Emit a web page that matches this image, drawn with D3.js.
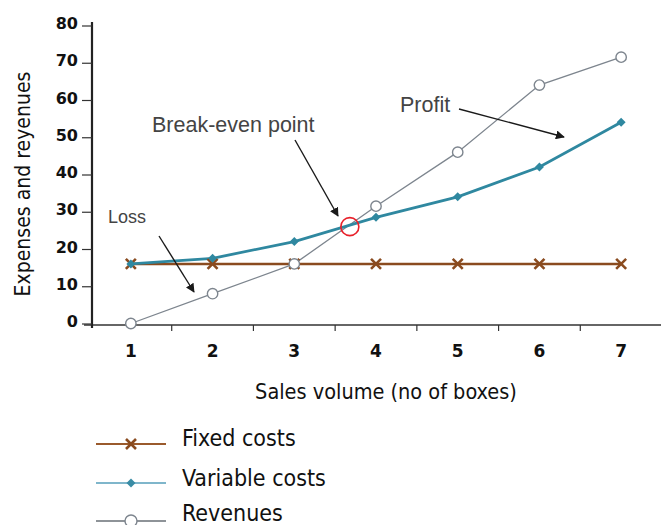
<!DOCTYPE html>
<html><head><meta charset="utf-8">
<script src="https://cdn.jsdelivr.net/npm/d3@7"></script>
<style>body{margin:0;background:#fff}</style>
</head><body>
<svg id="c" width="661" height="525"></svg>
<script>
const categories = ["1","2","3","4","5","6","7"];
const fixedCosts = [16,16,16,16,16,16,16];
const variableCosts = [16,17.5,22,28.5,34,42,54];
const revenues = [0,8,16,31.5,46,64,71.5];
const yTicks = [0,10,20,30,40,50,60,70,80];
const breakEven = {x: 3.68, y: 26};
const seriesNames = ["Fixed costs","Variable costs","Revenues"];

const COND = "'DejaVu Sans Condensed', 'DejaVu Sans'";
const svg = d3.select("#c");
const x = d3.scaleBand().domain(categories).range([90,662]);
const y = d3.scaleLinear().domain([0,80]).range([323.5,25.5]);
const cx = c => x(c) + x.bandwidth()/2;
const xv = v => cx("1") + (v-1)*x.step();

svg.append("defs").append("marker").attr("id","ah").attr("viewBox","0 0 10 10")
  .attr("refX",9).attr("refY",5).attr("markerWidth",9).attr("markerHeight",9)
  .attr("markerUnits","userSpaceOnUse").attr("orient","auto")
  .append("path").attr("d","M0,0 L10,5 L0,10 z").attr("fill","#1a1a1a");

// x axis
const xa = svg.append("g").attr("transform","translate(0,325)")
  .call(d3.axisBottom(x).tickSize(0));
xa.select(".domain").remove();
xa.selectAll("text").attr("font-family","DejaVu Sans").attr("font-weight","bold").attr("font-size",17)
  .attr("fill","#111").attr("y",32).attr("dy",0);
xa.append("line").attr("x1",84).attr("x2",661).attr("y1",0).attr("y2",0).attr("stroke","#333").attr("stroke-width",1.5);
xa.selectAll(".bt").data(categories.slice(1)).enter().append("line")
  .attr("x1",d=>x(d)).attr("x2",d=>x(d)).attr("y1",0).attr("y2",6).attr("stroke","#333").attr("stroke-width",1.2);

// y axis
const ya = svg.append("g").attr("transform","translate(92,0)")
  .call(d3.axisLeft(y).tickValues(yTicks).tickSize(10).tickPadding(4).tickSizeOuter(0));
ya.select(".domain").attr("stroke","#222").attr("stroke-width",2.2).attr("d","M0,22V328");
ya.selectAll(".tick line").attr("stroke","#333").attr("stroke-width",1.2);
ya.selectAll("text").attr("font-family","DejaVu Sans").attr("font-weight","bold").attr("font-size",16).attr("fill","#111").attr("dy","0.2em");

// axis titles
svg.append("text").attr("x",386).attr("y",399).attr("text-anchor","middle")
  .attr("font-family",COND).attr("font-stretch","condensed").attr("font-size",21.5).attr("fill","#111")
  .text("Sales volume (no of boxes)");
svg.append("text").attr("transform","translate(30,184) rotate(-90)").attr("text-anchor","middle")
  .attr("font-family",COND).attr("font-stretch","condensed").attr("font-size",21).attr("fill","#111")
  .text("Expenses and reyenues");

const line = d3.line().x((d,i)=>cx(categories[i])).y(d=>y(d));

svg.append("path").datum(fixedCosts).attr("d",line).attr("fill","none").attr("stroke","#8a4b1f").attr("stroke-width",2.5);
svg.append("path").datum(revenues).attr("d",line).attr("fill","none").attr("stroke","#7d858e").attr("stroke-width",1.3);
svg.append("path").datum(variableCosts).attr("d",line).attr("fill","none").attr("stroke","#2f88a0").attr("stroke-width",2.8);

function xMark(g, px, py, s, col){
  g.append("path").attr("d",`M${px-s},${py-s}L${px+s},${py+s}M${px-s},${py+s}L${px+s},${py-s}`)
   .attr("stroke",col).attr("stroke-width",2.6).attr("fill","none");
}
function diamond(g, px, py, s, col){
  g.append("path").attr("d",`M${px},${py-s}L${px+s},${py}L${px},${py+s}L${px-s},${py}Z`).attr("fill",col);
}
const mk = svg.append("g");
fixedCosts.forEach((d,i)=>xMark(mk,cx(categories[i]),y(d),5,"#8a4b1f"));
variableCosts.forEach((d,i)=>diamond(mk,cx(categories[i]),y(d),4.5,"#2f88a0"));
revenues.forEach((d,i)=>mk.append("circle").attr("cx",cx(categories[i])).attr("cy",y(d)).attr("r",5.2)
  .attr("fill","#fff").attr("stroke","#7d858e").attr("stroke-width",1.4));

svg.append("circle").attr("cx",xv(breakEven.x)).attr("cy",y(breakEven.y)).attr("r",9)
  .attr("fill","none").attr("stroke","#e8202a").attr("stroke-width",1.6);

const ann = [
  {t:"Break-even point", tx:152, ty:131.5, fs:21.5, x1:295, y1:140, x2:338, y2:216},
  {t:"Loss", tx:108, ty:223, fs:18, x1:159, y1:236, x2:194, y2:292},
  {t:"Profit", tx:400, ty:112, fs:21.5, x1:459, y1:109, x2:564, y2:137}
];
ann.forEach(a=>{
  svg.append("text").attr("x",a.tx).attr("y",a.ty).attr("font-family","Liberation Sans, Arial").attr("font-size",a.fs)
    .attr("fill","#444").text(a.t);
  svg.append("line").attr("x1",a.x1).attr("y1",a.y1).attr("x2",a.x2).attr("y2",a.y2)
    .attr("stroke","#1a1a1a").attr("stroke-width",1.4).attr("marker-end","url(#ah)");
});

const lg = svg.append("g");
const ly = [444,483,521];
const lcol = ["#9a5a2c","#7fb6cb","#8e9398"];
seriesNames.forEach((n,i)=>{
  lg.append("line").attr("x1",96).attr("x2",166).attr("y1",ly[i]).attr("y2",ly[i]).attr("stroke",lcol[i]).attr("stroke-width",2);
  if(i===0) xMark(lg,131,ly[i],5,"#8a4b1f");
  if(i===1) diamond(lg,131,ly[i],4.5,"#3a8ca5");
  if(i===2) lg.append("circle").attr("cx",131).attr("cy",ly[i]).attr("r",6).attr("fill","#fff").attr("stroke","#7d858e").attr("stroke-width",1.4);
  lg.append("text").attr("x",182).attr("y",[446,486,521][i]).attr("font-family",COND).attr("font-stretch","condensed")
    .attr("font-size",23).attr("fill","#111").text(n);
});
</script>
</body></html>
